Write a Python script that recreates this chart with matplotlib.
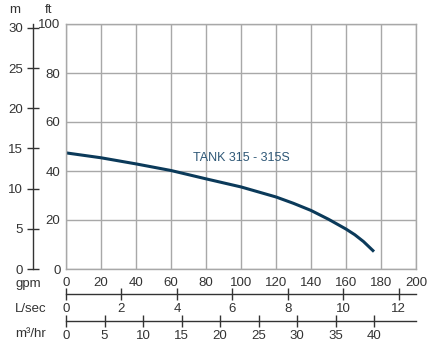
import matplotlib
matplotlib.use("Agg")
import matplotlib.pyplot as plt
import numpy as np

plt.rcParams['font.family'] = ['Liberation Sans', 'DejaVu Sans']

# pump curve: flow (gpm) vs head (ft)
flow_gpm = [0, 20, 40, 60, 80, 100, 120, 130, 140, 150, 160, 165, 170, 176]
head_ft = [47.4, 45.4, 42.9, 40.2, 36.8, 33.5, 29.4, 26.8, 23.9, 20.3, 16.3, 14.0, 11.2, 7.1]
curve_label = "TANK 315 - 315S"

ft_ticks = [0, 20, 40, 60, 80, 100]
m_ticks = [0, 5, 10, 15, 20, 25, 30]
gpm_ticks = [0, 20, 40, 60, 80, 100, 120, 140, 160, 180, 200]
lsec_ticks = [0, 2, 4, 6, 8, 10, 12]
m3hr_ticks = [0, 5, 10, 15, 20, 25, 30, 35, 40]

GPM_PER_LSEC = 15.8503
GPM_PER_M3HR = 4.40287
FT_PER_M = 3.28084

W, H = 445, 342
FS = 9.5
txt = '#333333'
grid = '#a8a8a8'
navy = '#0b3a5a'

fig = plt.figure(figsize=(W / 100, H / 100), dpi=100)

x0, x1 = 66, 416
y_top, y_bot = 24, 269
ax = fig.add_axes([x0 / W, 1 - y_bot / H, (x1 - x0) / W, (y_bot - y_top) / H])
ax.set_xlim(0, 200)
ax.set_ylim(0, 100)
ax.set_xticks(gpm_ticks)
ax.set_yticks(ft_ticks)
ax.grid(True, color=grid, lw=1)
for s in ax.spines.values():
    s.set_color(grid)
    s.set_linewidth(1)
ax.tick_params(length=0, colors=txt, labelsize=FS)
ax.tick_params(axis='y', pad=4)
ax.tick_params(axis='x', pad=6)
ax.plot(flow_gpm, head_ft, color=navy, lw=2.2, solid_capstyle='butt')
ax.text(100, 45.5, curve_label, color='#2f5877', fontsize=9, ha='center', va='center')

# head in metres on a separate spine
axm = fig.add_axes([33 / W, 1 - y_bot / H, 0.0001, (y_bot - y_top) / H])
axm.set_ylim(0, 100 / FT_PER_M)
axm.set_yticks(m_ticks)
axm.set_xticks([])
for side in ['top', 'right', 'bottom']:
    axm.spines[side].set_visible(False)
axm.spines['left'].set_color(txt)
axm.spines['left'].set_linewidth(1)
axm.patch.set_visible(False)
axm.tick_params(axis='y', direction='inout', length=8, width=1, color=txt,
                labelcolor=txt, labelsize=FS, pad=3)

# secondary flow scales underneath
def flow_axis(y_px, lim, ticks):
    a = fig.add_axes([x0 / W, 1 - y_px / H, (x1 - x0) / W, 0.0001])
    a.set_xlim(0, lim)
    a.set_xticks(ticks)
    a.set_yticks([])
    for side in ['top', 'left', 'right']:
        a.spines[side].set_visible(False)
    a.spines['bottom'].set_color(txt)
    a.spines['bottom'].set_linewidth(1)
    a.patch.set_visible(False)
    a.tick_params(axis='x', direction='inout', length=8, width=1, color=txt,
                  labelcolor=txt, labelsize=FS, pad=2.5)
    return a

flow_axis(294, 200 / GPM_PER_LSEC, lsec_ticks)
flow_axis(321, 200 / GPM_PER_M3HR, m3hr_ticks)

fig.text(15 / W, 1 - 10 / H, 'm', color=txt, fontsize=FS, ha='center', va='center')
fig.text(49 / W, 1 - 10 / H, 'ft', color=txt, fontsize=FS, ha='center', va='center')
fig.text(15 / W, 1 - 284 / H, 'gpm', color=txt, fontsize=FS, ha='left', va='center')
fig.text(15 / W, 1 - 309 / H, 'L/sec', color=txt, fontsize=FS, ha='left', va='center')
fig.text(15 / W, 1 - 334 / H, 'm³/hr', color=txt, fontsize=FS, ha='left', va='center')

fig.savefig('out.png', dpi=100)
